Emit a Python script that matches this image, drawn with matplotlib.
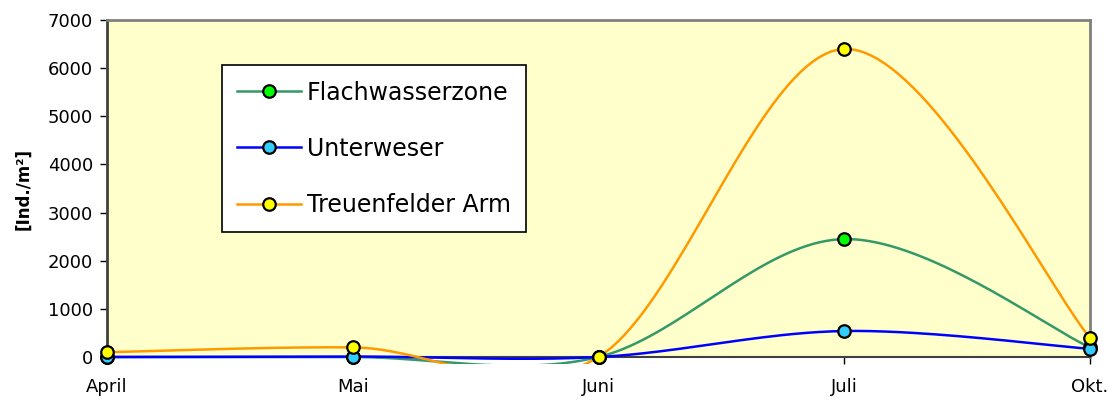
import numpy as np
import matplotlib
matplotlib.use("Agg")
from matplotlib import pyplot as plt
from matplotlib.patches import Rectangle

plt.rcParams['font.family'] = ['DejaVu Sans']

months = ["April", "Mai", "Juni", "Juli", "Okt."]
flachwasser = [0, 0, 0, 2450, 200]
unterweser = [0, 10, 0, 540, 170]
treuenfelder = [100, 200, 0, 6400, 400]

series = [
    ("Flachwasserzone", flachwasser, "#339966", "#00FF00"),
    ("Unterweser", unterweser, "#0000FF", "#33CCFF"),
    ("Treuenfelder Arm", treuenfelder, "#FF9900", "#FFFF00"),
]


def smooth(x, y, n=40):
    # excel-like bezier smoothing through the points
    x = np.asarray(x, float)
    y = np.asarray(y, float)
    P = np.column_stack([x, y])
    out = [P[0]]
    for i in range(len(P) - 1):
        p0 = P[i - 1] if i > 0 else P[i]
        p1 = P[i]
        p2 = P[i + 1]
        p3 = P[i + 2] if i + 2 < len(P) else P[i + 1]
        c1 = p1 + (p2 - p0) / 6
        c2 = p2 - (p3 - p1) / 6
        t = np.linspace(0, 1, n)[1:, None]
        b = (1 - t) ** 3 * p1 + 3 * (1 - t) ** 2 * t * c1 + 3 * (1 - t) * t ** 2 * c2 + t ** 3 * p2
        out.extend(b)
    out = np.array(out)
    return out[:, 0], out[:, 1]


fig = plt.figure(figsize=(11.16, 4.01), dpi=100)
ax = fig.add_axes([0.0959, 0.1097, 0.8808, 0.8403])
ax.set_facecolor("#FFFFCC")

# curves may run a few pixels below the x axis, like in excel
clip = Rectangle((-0.01, -0.021), 1.02, 1.03, transform=ax.transAxes, fc="none", ec="none")

xs = np.arange(len(months))
for name, vals, lc, mc in series:
    sx, sy = smooth(xs, vals)
    ln, = ax.plot(sx, sy, color=lc, lw=1.8, zorder=3)
    ln.set_clip_path(clip)
    ax.plot(xs, vals, ls="none", marker="o", ms=9, mfc=mc, mec="black", mew=1.6,
            clip_on=False, zorder=4)
    ax.plot([], [], color=lc, lw=1.8, marker="o", ms=9, mfc=mc, mec="black", mew=1.6, label=name)

ax.set_xlim(0, len(months) - 1)
ax.set_ylim(0, 7000)
ax.set_xticks(xs)
ax.set_xticklabels(months, fontsize=13)
ax.set_yticks(np.arange(0, 7001, 1000))
ax.tick_params(axis="y", labelsize=13, direction="out", length=5, width=1, pad=5)
ax.tick_params(axis="x", direction="out", length=5, width=1, pad=10)
ax.set_ylabel("[Ind./m²]", fontsize=12, fontweight="bold", labelpad=11)

for s in ["top", "right"]:
    ax.spines[s].set_color("#808080")
    ax.spines[s].set_linewidth(2)
ax.spines["left"].set_color("#404040")
ax.spines["left"].set_linewidth(2)
ax.spines["bottom"].set_color("#404040")
ax.spines["bottom"].set_linewidth(1.5)

leg = ax.legend(loc="upper left", bbox_to_anchor=(0.117, 0.866), fontsize=17,
                frameon=True, fancybox=False, framealpha=1, edgecolor="black",
                labelspacing=1.36, handlelength=2.7, handletextpad=0.25,
                borderpad=0.65, borderaxespad=0, numpoints=1)
leg.get_frame().set_linewidth(1.2)

fig.savefig("out.png", dpi=100)
